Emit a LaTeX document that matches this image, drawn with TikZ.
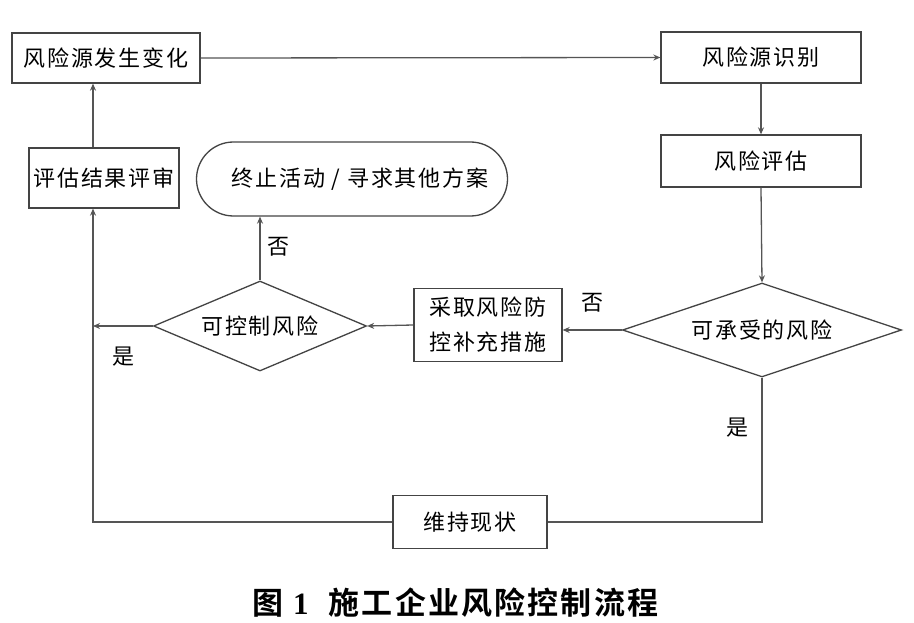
\documentclass[tikz,border=0pt]{standalone}
\usepackage{fontspec}
\usetikzlibrary{arrows.meta,shapes.geometric}
\newfontfamily\cjk{Noto Sans CJK SC}[LetterSpace=8]
\newfontfamily\cjkb{Noto Sans CJK SC Bold}[LetterSpace=7]
\newfontfamily\serb{Liberation Serif}
\definecolor{ln}{HTML}{555555}
\definecolor{bd}{HTML}{444444}
\begin{document}
\begin{tikzpicture}[x=1pt,y=-1pt,
  font=\cjk\fontsize{22pt}{26pt}\selectfont,
  box/.style={draw=bd,line width=1.3pt,rectangle,inner sep=0pt,align=center},
  dia/.style={draw=bd,line width=1.3pt,diamond,inner sep=0pt},
  conn/.style={draw=ln,line width=1.3pt},
  arr/.style={conn,-{Stealth[length=7pt,width=6pt]}},
  lbl/.style={inner sep=0pt}]
\useasboundingbox (0,0) rectangle (914,623);
\fill[white] (0,0) rectangle (914,623);

\node[box,minimum width=188pt,minimum height=50pt] (A) at (106,58) {风险源发生变化};
\node[box,minimum width=200pt,minimum height=51pt] (B) at (761,57.5) {风险源识别};
\node[box,minimum width=200pt,minimum height=52pt] (C) at (761,161) {风险评估};
\node[box,minimum width=150pt,minimum height=60pt] (D) at (104,178) {评估结果评审};
\node[draw=bd,line width=1.3pt,rectangle,rounded corners=37pt,inner sep=0pt,
      minimum width=311pt,minimum height=74pt] (E) at (352,179) {\hspace{16pt}终止活动 / 寻求其他方案};
\node[dia,aspect=2.37,minimum width=213pt,minimum height=90pt] (F) at (260,326) {可控制风险};
\node[box,minimum width=148pt,minimum height=73pt,font=\cjk\fontsize{22pt}{35pt}\selectfont] (G) at (488,325) {采取风险防\\控补充措施};
\node[dia,aspect=2.97,minimum width=279pt,minimum height=94pt] (H) at (762,330) {可承受的风险};
\node[box,minimum width=154pt,minimum height=53pt] (I) at (470,522) {维持现状};

\coordinate (L) at (93,522);

\draw[arr] (A.east) -- (B.west);
\draw[arr] (B.south) -- (C.north);
\draw[arr] (C.south) -- (H.north);
\draw[arr] (H.west) -- (G.east |- H.west);
\draw[arr] (G.west) -- (F.east);
\draw[arr] (F.north) -- (F.north |- E.south);
\draw[arr] (F.west) -- (L |- F.west);
\draw[conn] (H.south) |- (I.east);
\draw[arr] (I.west) -- (L) -- (L |- D.south);
\draw[arr] (L |- D.north) -- (L |- A.south);

\node[lbl] (n1) at (278,247) {否};
\node[lbl] (y1) at (123,357) {是};
\node[lbl] (n2) at (592,303) {否};
\node[lbl] (y2) at (737,428) {是};

\node[lbl,anchor=west] (cap) at (252,603) {\cjkb\fontsize{31pt}{36pt}\selectfont 图\hspace{10pt}{\serb\bfseries 1}\hspace{20pt}施工企业风险控制流程};
\end{tikzpicture}
\end{document}
